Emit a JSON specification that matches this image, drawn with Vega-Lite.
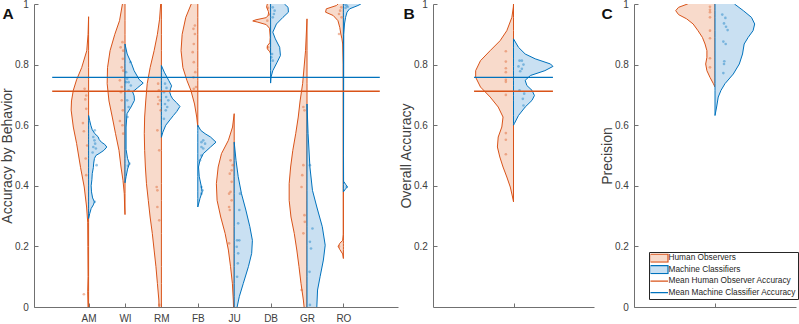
{
  "$schema": "https://vega.github.io/schema/vega-lite/v6.json",
  "autosize": {"type": "pad"},
  "padding": {"left": 0, "top": -1, "right": 0, "bottom": 0},
  "background": "white",
  "config": {
    "font": "Liberation Sans",
    "view": {"stroke": null},
    "axis": {
      "grid": false,
      "domainColor": "#707070",
      "tickColor": "#707070",
      "labelColor": "#404040",
      "titleColor": "#404040",
      "labelFontSize": 10,
      "titleFontSize": 14,
      "titleFontWeight": "normal",
      "tickSize": -4
    },
    "axisX": {"labelPadding": 10},
    "axisY": {"labelPadding": 9.7, "titlePadding": 0},
    "title": {"fontSize": 15.5, "fontWeight": "bold", "anchor": "start", "frame": "bounds", "color": "#111111", "offset": 0}
  },
  "datasets": {
    "means": [
      {"group": "Human Observers", "value": 0.712},
      {"group": "Machine Classifiers", "value": 0.758}
    ],
    "outline": [
      {"panel":"A","behavior":"AM","group":"Human Observers","value":-0.03,"spread":-0.01},
      {"panel":"A","behavior":"AM","group":"Human Observers","value":0.05,"spread":-0.025},
      {"panel":"A","behavior":"AM","group":"Human Observers","value":0.1,"spread":-0.015},
      {"panel":"A","behavior":"AM","group":"Human Observers","value":0.2,"spread":-0.02},
      {"panel":"A","behavior":"AM","group":"Human Observers","value":0.28,"spread":-0.025},
      {"panel":"A","behavior":"AM","group":"Human Observers","value":0.33,"spread":-0.055},
      {"panel":"A","behavior":"AM","group":"Human Observers","value":0.396,"spread":-0.12},
      {"panel":"A","behavior":"AM","group":"Human Observers","value":0.46,"spread":-0.22},
      {"panel":"A","behavior":"AM","group":"Human Observers","value":0.54,"spread":-0.33},
      {"panel":"A","behavior":"AM","group":"Human Observers","value":0.594,"spread":-0.42},
      {"panel":"A","behavior":"AM","group":"Human Observers","value":0.65,"spread":-0.48},
      {"panel":"A","behavior":"AM","group":"Human Observers","value":0.68,"spread":-0.47},
      {"panel":"A","behavior":"AM","group":"Human Observers","value":0.715,"spread":-0.42},
      {"panel":"A","behavior":"AM","group":"Human Observers","value":0.75,"spread":-0.33},
      {"panel":"A","behavior":"AM","group":"Human Observers","value":0.79,"spread":-0.19},
      {"panel":"A","behavior":"AM","group":"Human Observers","value":0.846,"spread":-0.05},
      {"panel":"A","behavior":"AM","group":"Human Observers","value":0.9,"spread":-0.015},
      {"panel":"A","behavior":"AM","group":"Human Observers","value":0.958,"spread":0},
      {"panel":"A","behavior":"AM","group":"Machine Classifiers","value":0.292,"spread":0},
      {"panel":"A","behavior":"AM","group":"Machine Classifiers","value":0.308,"spread":0.03},
      {"panel":"A","behavior":"AM","group":"Machine Classifiers","value":0.325,"spread":0.07},
      {"panel":"A","behavior":"AM","group":"Machine Classifiers","value":0.337,"spread":0.13},
      {"panel":"A","behavior":"AM","group":"Machine Classifiers","value":0.347,"spread":0.16},
      {"panel":"A","behavior":"AM","group":"Machine Classifiers","value":0.36,"spread":0.11},
      {"panel":"A","behavior":"AM","group":"Machine Classifiers","value":0.38,"spread":0.08},
      {"panel":"A","behavior":"AM","group":"Machine Classifiers","value":0.4,"spread":0.07},
      {"panel":"A","behavior":"AM","group":"Machine Classifiers","value":0.42,"spread":0.09},
      {"panel":"A","behavior":"AM","group":"Machine Classifiers","value":0.44,"spread":0.1},
      {"panel":"A","behavior":"AM","group":"Machine Classifiers","value":0.46,"spread":0.13},
      {"panel":"A","behavior":"AM","group":"Machine Classifiers","value":0.475,"spread":0.14},
      {"panel":"A","behavior":"AM","group":"Machine Classifiers","value":0.49,"spread":0.16},
      {"panel":"A","behavior":"AM","group":"Machine Classifiers","value":0.5,"spread":0.2},
      {"panel":"A","behavior":"AM","group":"Machine Classifiers","value":0.508,"spread":0.31},
      {"panel":"A","behavior":"AM","group":"Machine Classifiers","value":0.517,"spread":0.42},
      {"panel":"A","behavior":"AM","group":"Machine Classifiers","value":0.528,"spread":0.5},
      {"panel":"A","behavior":"AM","group":"Machine Classifiers","value":0.537,"spread":0.44},
      {"panel":"A","behavior":"AM","group":"Machine Classifiers","value":0.544,"spread":0.35},
      {"panel":"A","behavior":"AM","group":"Machine Classifiers","value":0.553,"spread":0.29},
      {"panel":"A","behavior":"AM","group":"Machine Classifiers","value":0.562,"spread":0.26},
      {"panel":"A","behavior":"AM","group":"Machine Classifiers","value":0.572,"spread":0.17},
      {"panel":"A","behavior":"AM","group":"Machine Classifiers","value":0.585,"spread":0.1},
      {"panel":"A","behavior":"AM","group":"Machine Classifiers","value":0.6,"spread":0.06},
      {"panel":"A","behavior":"AM","group":"Machine Classifiers","value":0.615,"spread":0.03},
      {"panel":"A","behavior":"AM","group":"Machine Classifiers","value":0.632,"spread":0},
      {"panel":"A","behavior":"WI","group":"Human Observers","value":0.305,"spread":0},
      {"panel":"A","behavior":"WI","group":"Human Observers","value":0.33,"spread":-0.01},
      {"panel":"A","behavior":"WI","group":"Human Observers","value":0.374,"spread":-0.02},
      {"panel":"A","behavior":"WI","group":"Human Observers","value":0.418,"spread":-0.055},
      {"panel":"A","behavior":"WI","group":"Human Observers","value":0.462,"spread":-0.11},
      {"panel":"A","behavior":"WI","group":"Human Observers","value":0.517,"spread":-0.165},
      {"panel":"A","behavior":"WI","group":"Human Observers","value":0.572,"spread":-0.26},
      {"panel":"A","behavior":"WI","group":"Human Observers","value":0.627,"spread":-0.35},
      {"panel":"A","behavior":"WI","group":"Human Observers","value":0.68,"spread":-0.44},
      {"panel":"A","behavior":"WI","group":"Human Observers","value":0.737,"spread":-0.49},
      {"panel":"A","behavior":"WI","group":"Human Observers","value":0.79,"spread":-0.48},
      {"panel":"A","behavior":"WI","group":"Human Observers","value":0.846,"spread":-0.41},
      {"panel":"A","behavior":"WI","group":"Human Observers","value":0.9,"spread":-0.28},
      {"panel":"A","behavior":"WI","group":"Human Observers","value":0.945,"spread":-0.15},
      {"panel":"A","behavior":"WI","group":"Human Observers","value":1.0,"spread":-0.07},
      {"panel":"A","behavior":"WI","group":"Human Observers","value":1.03,"spread":-0.03},
      {"panel":"A","behavior":"WI","group":"Machine Classifiers","value":0.41,"spread":0},
      {"panel":"A","behavior":"WI","group":"Machine Classifiers","value":0.43,"spread":0.03},
      {"panel":"A","behavior":"WI","group":"Machine Classifiers","value":0.455,"spread":0.07},
      {"panel":"A","behavior":"WI","group":"Machine Classifiers","value":0.473,"spread":0.12},
      {"panel":"A","behavior":"WI","group":"Machine Classifiers","value":0.49,"spread":0.07},
      {"panel":"A","behavior":"WI","group":"Machine Classifiers","value":0.52,"spread":0.03},
      {"panel":"A","behavior":"WI","group":"Machine Classifiers","value":0.594,"spread":0.03},
      {"panel":"A","behavior":"WI","group":"Machine Classifiers","value":0.638,"spread":0.055},
      {"panel":"A","behavior":"WI","group":"Machine Classifiers","value":0.66,"spread":0.165},
      {"panel":"A","behavior":"WI","group":"Machine Classifiers","value":0.682,"spread":0.26},
      {"panel":"A","behavior":"WI","group":"Machine Classifiers","value":0.697,"spread":0.25},
      {"panel":"A","behavior":"WI","group":"Machine Classifiers","value":0.71,"spread":0.21},
      {"panel":"A","behavior":"WI","group":"Machine Classifiers","value":0.724,"spread":0.35},
      {"panel":"A","behavior":"WI","group":"Machine Classifiers","value":0.739,"spread":0.5},
      {"panel":"A","behavior":"WI","group":"Machine Classifiers","value":0.752,"spread":0.38},
      {"panel":"A","behavior":"WI","group":"Machine Classifiers","value":0.759,"spread":0.35},
      {"panel":"A","behavior":"WI","group":"Machine Classifiers","value":0.78,"spread":0.25},
      {"panel":"A","behavior":"WI","group":"Machine Classifiers","value":0.803,"spread":0.18},
      {"panel":"A","behavior":"WI","group":"Machine Classifiers","value":0.835,"spread":0.06},
      {"panel":"A","behavior":"WI","group":"Machine Classifiers","value":0.868,"spread":0},
      {"panel":"A","behavior":"RM","group":"Human Observers","value":-0.03,"spread":-0.07},
      {"panel":"A","behavior":"RM","group":"Human Observers","value":0.0,"spread":-0.065},
      {"panel":"A","behavior":"RM","group":"Human Observers","value":0.023,"spread":-0.07},
      {"panel":"A","behavior":"RM","group":"Human Observers","value":0.078,"spread":-0.11},
      {"panel":"A","behavior":"RM","group":"Human Observers","value":0.133,"spread":-0.15},
      {"panel":"A","behavior":"RM","group":"Human Observers","value":0.188,"spread":-0.2},
      {"panel":"A","behavior":"RM","group":"Human Observers","value":0.243,"spread":-0.25},
      {"panel":"A","behavior":"RM","group":"Human Observers","value":0.297,"spread":-0.31},
      {"panel":"A","behavior":"RM","group":"Human Observers","value":0.352,"spread":-0.36},
      {"panel":"A","behavior":"RM","group":"Human Observers","value":0.407,"spread":-0.41},
      {"panel":"A","behavior":"RM","group":"Human Observers","value":0.462,"spread":-0.44},
      {"panel":"A","behavior":"RM","group":"Human Observers","value":0.517,"spread":-0.46},
      {"panel":"A","behavior":"RM","group":"Human Observers","value":0.572,"spread":-0.47},
      {"panel":"A","behavior":"RM","group":"Human Observers","value":0.627,"spread":-0.46},
      {"panel":"A","behavior":"RM","group":"Human Observers","value":0.68,"spread":-0.43},
      {"panel":"A","behavior":"RM","group":"Human Observers","value":0.737,"spread":-0.39},
      {"panel":"A","behavior":"RM","group":"Human Observers","value":0.79,"spread":-0.31},
      {"panel":"A","behavior":"RM","group":"Human Observers","value":0.846,"spread":-0.2},
      {"panel":"A","behavior":"RM","group":"Human Observers","value":0.9,"spread":-0.11},
      {"panel":"A","behavior":"RM","group":"Human Observers","value":0.95,"spread":-0.05},
      {"panel":"A","behavior":"RM","group":"Human Observers","value":1.0,"spread":-0.02},
      {"panel":"A","behavior":"RM","group":"Human Observers","value":1.03,"spread":-0.01},
      {"panel":"A","behavior":"RM","group":"Machine Classifiers","value":0.56,"spread":0},
      {"panel":"A","behavior":"RM","group":"Machine Classifiers","value":0.577,"spread":0.04},
      {"panel":"A","behavior":"RM","group":"Machine Classifiers","value":0.6,"spread":0.12},
      {"panel":"A","behavior":"RM","group":"Machine Classifiers","value":0.62,"spread":0.25},
      {"panel":"A","behavior":"RM","group":"Machine Classifiers","value":0.632,"spread":0.33},
      {"panel":"A","behavior":"RM","group":"Machine Classifiers","value":0.645,"spread":0.42},
      {"panel":"A","behavior":"RM","group":"Machine Classifiers","value":0.662,"spread":0.51},
      {"panel":"A","behavior":"RM","group":"Machine Classifiers","value":0.675,"spread":0.41},
      {"panel":"A","behavior":"RM","group":"Machine Classifiers","value":0.687,"spread":0.31},
      {"panel":"A","behavior":"RM","group":"Machine Classifiers","value":0.697,"spread":0.26},
      {"panel":"A","behavior":"RM","group":"Machine Classifiers","value":0.709,"spread":0.23},
      {"panel":"A","behavior":"RM","group":"Machine Classifiers","value":0.72,"spread":0.25},
      {"panel":"A","behavior":"RM","group":"Machine Classifiers","value":0.73,"spread":0.28},
      {"panel":"A","behavior":"RM","group":"Machine Classifiers","value":0.748,"spread":0.2},
      {"panel":"A","behavior":"RM","group":"Machine Classifiers","value":0.775,"spread":0.08},
      {"panel":"A","behavior":"RM","group":"Machine Classifiers","value":0.797,"spread":0},
      {"panel":"A","behavior":"FB","group":"Human Observers","value":0.594,"spread":0},
      {"panel":"A","behavior":"FB","group":"Human Observers","value":0.627,"spread":-0.03},
      {"panel":"A","behavior":"FB","group":"Human Observers","value":0.67,"spread":-0.09},
      {"panel":"A","behavior":"FB","group":"Human Observers","value":0.715,"spread":-0.19},
      {"panel":"A","behavior":"FB","group":"Human Observers","value":0.748,"spread":-0.3},
      {"panel":"A","behavior":"FB","group":"Human Observers","value":0.79,"spread":-0.41},
      {"panel":"A","behavior":"FB","group":"Human Observers","value":0.846,"spread":-0.46},
      {"panel":"A","behavior":"FB","group":"Human Observers","value":0.9,"spread":-0.43},
      {"panel":"A","behavior":"FB","group":"Human Observers","value":0.956,"spread":-0.33},
      {"panel":"A","behavior":"FB","group":"Human Observers","value":1.0,"spread":-0.18},
      {"panel":"A","behavior":"FB","group":"Human Observers","value":1.03,"spread":-0.1},
      {"panel":"A","behavior":"FB","group":"Machine Classifiers","value":0.33,"spread":0},
      {"panel":"A","behavior":"FB","group":"Machine Classifiers","value":0.358,"spread":0.06},
      {"panel":"A","behavior":"FB","group":"Machine Classifiers","value":0.38,"spread":0.12},
      {"panel":"A","behavior":"FB","group":"Machine Classifiers","value":0.396,"spread":0.1},
      {"panel":"A","behavior":"FB","group":"Machine Classifiers","value":0.43,"spread":0.04},
      {"panel":"A","behavior":"FB","group":"Machine Classifiers","value":0.462,"spread":0.02},
      {"panel":"A","behavior":"FB","group":"Machine Classifiers","value":0.484,"spread":0.06},
      {"panel":"A","behavior":"FB","group":"Machine Classifiers","value":0.506,"spread":0.15},
      {"panel":"A","behavior":"FB","group":"Machine Classifiers","value":0.528,"spread":0.35},
      {"panel":"A","behavior":"FB","group":"Machine Classifiers","value":0.544,"spread":0.5},
      {"panel":"A","behavior":"FB","group":"Machine Classifiers","value":0.561,"spread":0.35},
      {"panel":"A","behavior":"FB","group":"Machine Classifiers","value":0.572,"spread":0.2},
      {"panel":"A","behavior":"FB","group":"Machine Classifiers","value":0.583,"spread":0.08},
      {"panel":"A","behavior":"FB","group":"Machine Classifiers","value":0.6,"spread":0},
      {"panel":"A","behavior":"JU","group":"Human Observers","value":-0.03,"spread":-0.01},
      {"panel":"A","behavior":"JU","group":"Human Observers","value":0.023,"spread":-0.025},
      {"panel":"A","behavior":"JU","group":"Human Observers","value":0.078,"spread":-0.05},
      {"panel":"A","behavior":"JU","group":"Human Observers","value":0.133,"spread":-0.1},
      {"panel":"A","behavior":"JU","group":"Human Observers","value":0.188,"spread":-0.16},
      {"panel":"A","behavior":"JU","group":"Human Observers","value":0.243,"spread":-0.25},
      {"panel":"A","behavior":"JU","group":"Human Observers","value":0.297,"spread":-0.37},
      {"panel":"A","behavior":"JU","group":"Human Observers","value":0.352,"spread":-0.47},
      {"panel":"A","behavior":"JU","group":"Human Observers","value":0.407,"spread":-0.49},
      {"panel":"A","behavior":"JU","group":"Human Observers","value":0.462,"spread":-0.44},
      {"panel":"A","behavior":"JU","group":"Human Observers","value":0.506,"spread":-0.35},
      {"panel":"A","behavior":"JU","group":"Human Observers","value":0.55,"spread":-0.16},
      {"panel":"A","behavior":"JU","group":"Human Observers","value":0.594,"spread":-0.045},
      {"panel":"A","behavior":"JU","group":"Human Observers","value":0.638,"spread":0},
      {"panel":"A","behavior":"JU","group":"Machine Classifiers","value":-0.03,"spread":0.07},
      {"panel":"A","behavior":"JU","group":"Machine Classifiers","value":0.0,"spread":0.08},
      {"panel":"A","behavior":"JU","group":"Machine Classifiers","value":0.034,"spread":0.14},
      {"panel":"A","behavior":"JU","group":"Machine Classifiers","value":0.078,"spread":0.25},
      {"panel":"A","behavior":"JU","group":"Machine Classifiers","value":0.133,"spread":0.39},
      {"panel":"A","behavior":"JU","group":"Machine Classifiers","value":0.177,"spread":0.48},
      {"panel":"A","behavior":"JU","group":"Machine Classifiers","value":0.22,"spread":0.5},
      {"panel":"A","behavior":"JU","group":"Machine Classifiers","value":0.265,"spread":0.43},
      {"panel":"A","behavior":"JU","group":"Machine Classifiers","value":0.32,"spread":0.32},
      {"panel":"A","behavior":"JU","group":"Machine Classifiers","value":0.374,"spread":0.2},
      {"panel":"A","behavior":"JU","group":"Machine Classifiers","value":0.43,"spread":0.11},
      {"panel":"A","behavior":"JU","group":"Machine Classifiers","value":0.484,"spread":0.05},
      {"panel":"A","behavior":"JU","group":"Machine Classifiers","value":0.544,"spread":0},
      {"panel":"A","behavior":"DB","group":"Human Observers","value":0.835,"spread":0},
      {"panel":"A","behavior":"DB","group":"Human Observers","value":0.842,"spread":-0.02},
      {"panel":"A","behavior":"DB","group":"Human Observers","value":0.852,"spread":-0.09},
      {"panel":"A","behavior":"DB","group":"Human Observers","value":0.862,"spread":-0.09},
      {"panel":"A","behavior":"DB","group":"Human Observers","value":0.872,"spread":-0.02},
      {"panel":"A","behavior":"DB","group":"Human Observers","value":0.89,"spread":-0.01},
      {"panel":"A","behavior":"DB","group":"Human Observers","value":0.92,"spread":-0.03},
      {"panel":"A","behavior":"DB","group":"Human Observers","value":0.932,"spread":-0.12},
      {"panel":"A","behavior":"DB","group":"Human Observers","value":0.94,"spread":-0.35},
      {"panel":"A","behavior":"DB","group":"Human Observers","value":0.944,"spread":-0.49},
      {"panel":"A","behavior":"DB","group":"Human Observers","value":0.948,"spread":-0.4},
      {"panel":"A","behavior":"DB","group":"Human Observers","value":0.955,"spread":-0.12},
      {"panel":"A","behavior":"DB","group":"Human Observers","value":0.965,"spread":-0.05},
      {"panel":"A","behavior":"DB","group":"Human Observers","value":0.975,"spread":-0.06},
      {"panel":"A","behavior":"DB","group":"Human Observers","value":0.99,"spread":-0.11},
      {"panel":"A","behavior":"DB","group":"Human Observers","value":1.0,"spread":-0.09},
      {"panel":"A","behavior":"DB","group":"Human Observers","value":1.03,"spread":-0.05},
      {"panel":"A","behavior":"DB","group":"Machine Classifiers","value":0.739,"spread":0},
      {"panel":"A","behavior":"DB","group":"Machine Classifiers","value":0.758,"spread":0.01},
      {"panel":"A","behavior":"DB","group":"Machine Classifiers","value":0.78,"spread":0.06},
      {"panel":"A","behavior":"DB","group":"Machine Classifiers","value":0.808,"spread":0.18},
      {"panel":"A","behavior":"DB","group":"Machine Classifiers","value":0.83,"spread":0.27},
      {"panel":"A","behavior":"DB","group":"Machine Classifiers","value":0.857,"spread":0.25},
      {"panel":"A","behavior":"DB","group":"Machine Classifiers","value":0.885,"spread":0.13},
      {"panel":"A","behavior":"DB","group":"Machine Classifiers","value":0.907,"spread":0.06},
      {"panel":"A","behavior":"DB","group":"Machine Classifiers","value":0.934,"spread":0.16},
      {"panel":"A","behavior":"DB","group":"Machine Classifiers","value":0.956,"spread":0.34},
      {"panel":"A","behavior":"DB","group":"Machine Classifiers","value":0.973,"spread":0.49},
      {"panel":"A","behavior":"DB","group":"Machine Classifiers","value":0.989,"spread":0.48},
      {"panel":"A","behavior":"DB","group":"Machine Classifiers","value":1.0,"spread":0.38},
      {"panel":"A","behavior":"DB","group":"Machine Classifiers","value":1.03,"spread":0.2},
      {"panel":"A","behavior":"GR","group":"Human Observers","value":-0.03,"spread":-0.07},
      {"panel":"A","behavior":"GR","group":"Human Observers","value":0.0,"spread":-0.08},
      {"panel":"A","behavior":"GR","group":"Human Observers","value":0.023,"spread":-0.1},
      {"panel":"A","behavior":"GR","group":"Human Observers","value":0.078,"spread":-0.165},
      {"panel":"A","behavior":"GR","group":"Human Observers","value":0.133,"spread":-0.22},
      {"panel":"A","behavior":"GR","group":"Human Observers","value":0.188,"spread":-0.28},
      {"panel":"A","behavior":"GR","group":"Human Observers","value":0.243,"spread":-0.35},
      {"panel":"A","behavior":"GR","group":"Human Observers","value":0.297,"spread":-0.44},
      {"panel":"A","behavior":"GR","group":"Human Observers","value":0.352,"spread":-0.49},
      {"panel":"A","behavior":"GR","group":"Human Observers","value":0.407,"spread":-0.49},
      {"panel":"A","behavior":"GR","group":"Human Observers","value":0.462,"spread":-0.45},
      {"panel":"A","behavior":"GR","group":"Human Observers","value":0.517,"spread":-0.39},
      {"panel":"A","behavior":"GR","group":"Human Observers","value":0.572,"spread":-0.31},
      {"panel":"A","behavior":"GR","group":"Human Observers","value":0.627,"spread":-0.24},
      {"panel":"A","behavior":"GR","group":"Human Observers","value":0.68,"spread":-0.19},
      {"panel":"A","behavior":"GR","group":"Human Observers","value":0.737,"spread":-0.12},
      {"panel":"A","behavior":"GR","group":"Human Observers","value":0.846,"spread":-0.04},
      {"panel":"A","behavior":"GR","group":"Human Observers","value":0.951,"spread":0},
      {"panel":"A","behavior":"GR","group":"Machine Classifiers","value":-0.03,"spread":0.27},
      {"panel":"A","behavior":"GR","group":"Machine Classifiers","value":0.0,"spread":0.27},
      {"panel":"A","behavior":"GR","group":"Machine Classifiers","value":0.056,"spread":0.29},
      {"panel":"A","behavior":"GR","group":"Machine Classifiers","value":0.1,"spread":0.36},
      {"panel":"A","behavior":"GR","group":"Machine Classifiers","value":0.155,"spread":0.45},
      {"panel":"A","behavior":"GR","group":"Machine Classifiers","value":0.204,"spread":0.5},
      {"panel":"A","behavior":"GR","group":"Machine Classifiers","value":0.265,"spread":0.42},
      {"panel":"A","behavior":"GR","group":"Machine Classifiers","value":0.33,"spread":0.27},
      {"panel":"A","behavior":"GR","group":"Machine Classifiers","value":0.385,"spread":0.15},
      {"panel":"A","behavior":"GR","group":"Machine Classifiers","value":0.462,"spread":0.08},
      {"panel":"A","behavior":"GR","group":"Machine Classifiers","value":0.572,"spread":0.03},
      {"panel":"A","behavior":"GR","group":"Machine Classifiers","value":0.67,"spread":0},
      {"panel":"A","behavior":"RO","group":"Human Observers","value":0.16,"spread":0},
      {"panel":"A","behavior":"RO","group":"Human Observers","value":0.175,"spread":-0.02},
      {"panel":"A","behavior":"RO","group":"Human Observers","value":0.19,"spread":-0.1},
      {"panel":"A","behavior":"RO","group":"Human Observers","value":0.2,"spread":-0.14},
      {"panel":"A","behavior":"RO","group":"Human Observers","value":0.21,"spread":-0.1},
      {"panel":"A","behavior":"RO","group":"Human Observers","value":0.22,"spread":-0.02},
      {"panel":"A","behavior":"RO","group":"Human Observers","value":0.24,"spread":-0.003},
      {"panel":"A","behavior":"RO","group":"Human Observers","value":0.8,"spread":-0.005},
      {"panel":"A","behavior":"RO","group":"Human Observers","value":0.868,"spread":-0.02},
      {"panel":"A","behavior":"RO","group":"Human Observers","value":0.885,"spread":-0.04},
      {"panel":"A","behavior":"RO","group":"Human Observers","value":0.901,"spread":-0.07},
      {"panel":"A","behavior":"RO","group":"Human Observers","value":0.923,"spread":-0.1},
      {"panel":"A","behavior":"RO","group":"Human Observers","value":0.945,"spread":-0.15},
      {"panel":"A","behavior":"RO","group":"Human Observers","value":0.962,"spread":-0.28},
      {"panel":"A","behavior":"RO","group":"Human Observers","value":0.973,"spread":-0.49},
      {"panel":"A","behavior":"RO","group":"Human Observers","value":0.984,"spread":-0.47},
      {"panel":"A","behavior":"RO","group":"Human Observers","value":0.995,"spread":-0.19},
      {"panel":"A","behavior":"RO","group":"Human Observers","value":1.0,"spread":-0.15},
      {"panel":"A","behavior":"RO","group":"Human Observers","value":1.03,"spread":-0.05},
      {"panel":"A","behavior":"RO","group":"Machine Classifiers","value":0.38,"spread":0},
      {"panel":"A","behavior":"RO","group":"Machine Classifiers","value":0.39,"spread":0.06},
      {"panel":"A","behavior":"RO","group":"Machine Classifiers","value":0.396,"spread":0.11},
      {"panel":"A","behavior":"RO","group":"Machine Classifiers","value":0.405,"spread":0.06},
      {"panel":"A","behavior":"RO","group":"Machine Classifiers","value":0.415,"spread":0.005},
      {"panel":"A","behavior":"RO","group":"Machine Classifiers","value":0.5,"spread":0.003},
      {"panel":"A","behavior":"RO","group":"Machine Classifiers","value":0.9,"spread":0.01},
      {"panel":"A","behavior":"RO","group":"Machine Classifiers","value":0.934,"spread":0.03},
      {"panel":"A","behavior":"RO","group":"Machine Classifiers","value":0.956,"spread":0.06},
      {"panel":"A","behavior":"RO","group":"Machine Classifiers","value":0.973,"spread":0.1},
      {"panel":"A","behavior":"RO","group":"Machine Classifiers","value":0.984,"spread":0.17},
      {"panel":"A","behavior":"RO","group":"Machine Classifiers","value":0.995,"spread":0.4},
      {"panel":"A","behavior":"RO","group":"Machine Classifiers","value":1.0,"spread":0.48},
      {"panel":"A","behavior":"RO","group":"Machine Classifiers","value":1.03,"spread":0.5},
      {"panel":"B","behavior":"All","group":"Human Observers","value":0.347,"spread":0},
      {"panel":"B","behavior":"All","group":"Human Observers","value":0.363,"spread":-0.012},
      {"panel":"B","behavior":"All","group":"Human Observers","value":0.396,"spread":-0.04},
      {"panel":"B","behavior":"All","group":"Human Observers","value":0.429,"spread":-0.083},
      {"panel":"B","behavior":"All","group":"Human Observers","value":0.462,"spread":-0.13},
      {"panel":"B","behavior":"All","group":"Human Observers","value":0.495,"spread":-0.17},
      {"panel":"B","behavior":"All","group":"Human Observers","value":0.528,"spread":-0.2},
      {"panel":"B","behavior":"All","group":"Human Observers","value":0.561,"spread":-0.19},
      {"panel":"B","behavior":"All","group":"Human Observers","value":0.594,"spread":-0.145},
      {"panel":"B","behavior":"All","group":"Human Observers","value":0.627,"spread":-0.13},
      {"panel":"B","behavior":"All","group":"Human Observers","value":0.66,"spread":-0.19},
      {"panel":"B","behavior":"All","group":"Human Observers","value":0.693,"spread":-0.29},
      {"panel":"B","behavior":"All","group":"Human Observers","value":0.726,"spread":-0.41},
      {"panel":"B","behavior":"All","group":"Human Observers","value":0.758,"spread":-0.47},
      {"panel":"B","behavior":"All","group":"Human Observers","value":0.78,"spread":-0.47},
      {"panel":"B","behavior":"All","group":"Human Observers","value":0.813,"spread":-0.41},
      {"panel":"B","behavior":"All","group":"Human Observers","value":0.846,"spread":-0.29},
      {"panel":"B","behavior":"All","group":"Human Observers","value":0.879,"spread":-0.166},
      {"panel":"B","behavior":"All","group":"Human Observers","value":0.912,"spread":-0.083},
      {"panel":"B","behavior":"All","group":"Human Observers","value":0.956,"spread":-0.02},
      {"panel":"B","behavior":"All","group":"Human Observers","value":0.99,"spread":-0.002},
      {"panel":"B","behavior":"All","group":"Human Observers","value":1.0,"spread":0},
      {"panel":"B","behavior":"All","group":"Machine Classifiers","value":0.6,"spread":0},
      {"panel":"B","behavior":"All","group":"Machine Classifiers","value":0.605,"spread":0.01},
      {"panel":"B","behavior":"All","group":"Machine Classifiers","value":0.632,"spread":0.062},
      {"panel":"B","behavior":"All","group":"Machine Classifiers","value":0.66,"spread":0.145},
      {"panel":"B","behavior":"All","group":"Machine Classifiers","value":0.682,"spread":0.23},
      {"panel":"B","behavior":"All","group":"Machine Classifiers","value":0.698,"spread":0.26},
      {"panel":"B","behavior":"All","group":"Machine Classifiers","value":0.715,"spread":0.23},
      {"panel":"B","behavior":"All","group":"Machine Classifiers","value":0.731,"spread":0.166},
      {"panel":"B","behavior":"All","group":"Machine Classifiers","value":0.748,"spread":0.145},
      {"panel":"B","behavior":"All","group":"Machine Classifiers","value":0.764,"spread":0.21},
      {"panel":"B","behavior":"All","group":"Machine Classifiers","value":0.78,"spread":0.39},
      {"panel":"B","behavior":"All","group":"Machine Classifiers","value":0.794,"spread":0.49},
      {"panel":"B","behavior":"All","group":"Machine Classifiers","value":0.802,"spread":0.46},
      {"panel":"B","behavior":"All","group":"Machine Classifiers","value":0.819,"spread":0.27},
      {"panel":"B","behavior":"All","group":"Machine Classifiers","value":0.835,"spread":0.145},
      {"panel":"B","behavior":"All","group":"Machine Classifiers","value":0.857,"spread":0.062},
      {"panel":"B","behavior":"All","group":"Machine Classifiers","value":0.885,"spread":0},
      {"panel":"C","behavior":"All","group":"Human Observers","value":0.726,"spread":0},
      {"panel":"C","behavior":"All","group":"Human Observers","value":0.737,"spread":-0.02},
      {"panel":"C","behavior":"All","group":"Human Observers","value":0.758,"spread":-0.062},
      {"panel":"C","behavior":"All","group":"Human Observers","value":0.78,"spread":-0.1},
      {"panel":"C","behavior":"All","group":"Human Observers","value":0.802,"spread":-0.115},
      {"panel":"C","behavior":"All","group":"Human Observers","value":0.824,"spread":-0.1},
      {"panel":"C","behavior":"All","group":"Human Observers","value":0.846,"spread":-0.1},
      {"panel":"C","behavior":"All","group":"Human Observers","value":0.868,"spread":-0.123},
      {"panel":"C","behavior":"All","group":"Human Observers","value":0.89,"spread":-0.156},
      {"panel":"C","behavior":"All","group":"Human Observers","value":0.912,"spread":-0.21},
      {"panel":"C","behavior":"All","group":"Human Observers","value":0.934,"spread":-0.27},
      {"panel":"C","behavior":"All","group":"Human Observers","value":0.951,"spread":-0.35},
      {"panel":"C","behavior":"All","group":"Human Observers","value":0.965,"spread":-0.45},
      {"panel":"C","behavior":"All","group":"Human Observers","value":0.978,"spread":-0.485},
      {"panel":"C","behavior":"All","group":"Human Observers","value":0.989,"spread":-0.45},
      {"panel":"C","behavior":"All","group":"Human Observers","value":1.0,"spread":-0.34},
      {"panel":"C","behavior":"All","group":"Human Observers","value":1.03,"spread":-0.2},
      {"panel":"C","behavior":"All","group":"Machine Classifiers","value":0.632,"spread":0},
      {"panel":"C","behavior":"All","group":"Machine Classifiers","value":0.66,"spread":0.02},
      {"panel":"C","behavior":"All","group":"Machine Classifiers","value":0.693,"spread":0.04},
      {"panel":"C","behavior":"All","group":"Machine Classifiers","value":0.715,"spread":0.074},
      {"panel":"C","behavior":"All","group":"Machine Classifiers","value":0.737,"spread":0.123},
      {"panel":"C","behavior":"All","group":"Machine Classifiers","value":0.769,"spread":0.226},
      {"panel":"C","behavior":"All","group":"Machine Classifiers","value":0.802,"spread":0.3},
      {"panel":"C","behavior":"All","group":"Machine Classifiers","value":0.835,"spread":0.34},
      {"panel":"C","behavior":"All","group":"Machine Classifiers","value":0.868,"spread":0.36},
      {"panel":"C","behavior":"All","group":"Machine Classifiers","value":0.89,"spread":0.41},
      {"panel":"C","behavior":"All","group":"Machine Classifiers","value":0.912,"spread":0.47},
      {"panel":"C","behavior":"All","group":"Machine Classifiers","value":0.934,"spread":0.49},
      {"panel":"C","behavior":"All","group":"Machine Classifiers","value":0.956,"spread":0.45},
      {"panel":"C","behavior":"All","group":"Machine Classifiers","value":0.978,"spread":0.35},
      {"panel":"C","behavior":"All","group":"Machine Classifiers","value":1.0,"spread":0.24},
      {"panel":"C","behavior":"All","group":"Machine Classifiers","value":1.03,"spread":0.15}
    ],
    "dots": [
      {"panel":"A","behavior":"AM","group":"Human Observers","value":0.72,"offset":-0.11},
      {"panel":"A","behavior":"AM","group":"Human Observers","value":0.698,"offset":-0.065},
      {"panel":"A","behavior":"AM","group":"Human Observers","value":0.685,"offset":-0.09},
      {"panel":"A","behavior":"AM","group":"Human Observers","value":0.654,"offset":-0.065},
      {"panel":"A","behavior":"AM","group":"Human Observers","value":0.607,"offset":-0.155},
      {"panel":"A","behavior":"AM","group":"Human Observers","value":0.58,"offset":-0.13},
      {"panel":"A","behavior":"AM","group":"Human Observers","value":0.533,"offset":-0.04},
      {"panel":"A","behavior":"AM","group":"Human Observers","value":0.49,"offset":-0.08},
      {"panel":"A","behavior":"AM","group":"Human Observers","value":0.435,"offset":-0.065},
      {"panel":"A","behavior":"AM","group":"Human Observers","value":0.042,"offset":-0.13},
      {"panel":"A","behavior":"AM","group":"Machine Classifiers","value":0.583,"offset":0.17},
      {"panel":"A","behavior":"AM","group":"Machine Classifiers","value":0.561,"offset":0.13},
      {"panel":"A","behavior":"AM","group":"Machine Classifiers","value":0.55,"offset":0.16},
      {"panel":"A","behavior":"AM","group":"Machine Classifiers","value":0.539,"offset":0.18},
      {"panel":"A","behavior":"AM","group":"Machine Classifiers","value":0.528,"offset":0.13},
      {"panel":"A","behavior":"AM","group":"Machine Classifiers","value":0.523,"offset":0.2},
      {"panel":"A","behavior":"AM","group":"Machine Classifiers","value":0.51,"offset":0.11},
      {"panel":"A","behavior":"AM","group":"Machine Classifiers","value":0.468,"offset":0.22},
      {"panel":"A","behavior":"AM","group":"Machine Classifiers","value":0.347,"offset":0.17},
      {"panel":"A","behavior":"WI","group":"Human Observers","value":0.874,"offset":-0.07},
      {"panel":"A","behavior":"WI","group":"Human Observers","value":0.857,"offset":-0.12},
      {"panel":"A","behavior":"WI","group":"Human Observers","value":0.846,"offset":-0.05},
      {"panel":"A","behavior":"WI","group":"Human Observers","value":0.819,"offset":-0.06},
      {"panel":"A","behavior":"WI","group":"Human Observers","value":0.791,"offset":-0.09},
      {"panel":"A","behavior":"WI","group":"Human Observers","value":0.78,"offset":-0.05},
      {"panel":"A","behavior":"WI","group":"Human Observers","value":0.748,"offset":-0.14},
      {"panel":"A","behavior":"WI","group":"Human Observers","value":0.726,"offset":-0.09},
      {"panel":"A","behavior":"WI","group":"Human Observers","value":0.709,"offset":-0.11},
      {"panel":"A","behavior":"WI","group":"Human Observers","value":0.682,"offset":-0.09},
      {"panel":"A","behavior":"WI","group":"Human Observers","value":0.649,"offset":-0.06},
      {"panel":"A","behavior":"WI","group":"Human Observers","value":0.614,"offset":-0.14},
      {"panel":"A","behavior":"WI","group":"Human Observers","value":0.6,"offset":-0.07},
      {"panel":"A","behavior":"WI","group":"Human Observers","value":0.572,"offset":-0.05},
      {"panel":"A","behavior":"WI","group":"Machine Classifiers","value":0.808,"offset":0.15},
      {"panel":"A","behavior":"WI","group":"Machine Classifiers","value":0.775,"offset":0.03},
      {"panel":"A","behavior":"WI","group":"Machine Classifiers","value":0.753,"offset":0.06},
      {"panel":"A","behavior":"WI","group":"Machine Classifiers","value":0.742,"offset":0.03},
      {"panel":"A","behavior":"WI","group":"Machine Classifiers","value":0.742,"offset":0.1},
      {"panel":"A","behavior":"WI","group":"Machine Classifiers","value":0.731,"offset":0.16},
      {"panel":"A","behavior":"WI","group":"Machine Classifiers","value":0.715,"offset":0.1},
      {"panel":"A","behavior":"WI","group":"Machine Classifiers","value":0.682,"offset":0.06},
      {"panel":"A","behavior":"WI","group":"Machine Classifiers","value":0.66,"offset":0.1},
      {"panel":"A","behavior":"WI","group":"Machine Classifiers","value":0.627,"offset":0.07},
      {"panel":"A","behavior":"WI","group":"Machine Classifiers","value":0.473,"offset":0.12},
      {"panel":"A","behavior":"WI","group":"Machine Classifiers","value":0.466,"offset":0.08},
      {"panel":"A","behavior":"RM","group":"Human Observers","value":0.737,"offset":-0.09},
      {"panel":"A","behavior":"RM","group":"Human Observers","value":0.715,"offset":-0.07},
      {"panel":"A","behavior":"RM","group":"Human Observers","value":0.693,"offset":-0.09},
      {"panel":"A","behavior":"RM","group":"Human Observers","value":0.682,"offset":-0.04},
      {"panel":"A","behavior":"RM","group":"Human Observers","value":0.67,"offset":-0.09},
      {"panel":"A","behavior":"RM","group":"Human Observers","value":0.649,"offset":-0.02},
      {"panel":"A","behavior":"RM","group":"Human Observers","value":0.583,"offset":-0.11},
      {"panel":"A","behavior":"RM","group":"Human Observers","value":0.517,"offset":-0.06},
      {"panel":"A","behavior":"RM","group":"Human Observers","value":0.396,"offset":-0.13},
      {"panel":"A","behavior":"RM","group":"Human Observers","value":0.385,"offset":-0.11},
      {"panel":"A","behavior":"RM","group":"Human Observers","value":0.33,"offset":-0.11},
      {"panel":"A","behavior":"RM","group":"Human Observers","value":0.286,"offset":-0.06},
      {"panel":"A","behavior":"RM","group":"Human Observers","value":0.007,"offset":-0.06},
      {"panel":"A","behavior":"RM","group":"Machine Classifiers","value":0.737,"offset":0.1},
      {"panel":"A","behavior":"RM","group":"Machine Classifiers","value":0.723,"offset":0.14},
      {"panel":"A","behavior":"RM","group":"Machine Classifiers","value":0.709,"offset":0.07},
      {"panel":"A","behavior":"RM","group":"Machine Classifiers","value":0.693,"offset":0.13},
      {"panel":"A","behavior":"RM","group":"Machine Classifiers","value":0.682,"offset":0.19},
      {"panel":"A","behavior":"RM","group":"Machine Classifiers","value":0.67,"offset":0.1},
      {"panel":"A","behavior":"RM","group":"Machine Classifiers","value":0.66,"offset":0.16},
      {"panel":"A","behavior":"RM","group":"Machine Classifiers","value":0.649,"offset":0.12},
      {"panel":"A","behavior":"RM","group":"Machine Classifiers","value":0.621,"offset":0.07},
      {"panel":"A","behavior":"FB","group":"Human Observers","value":0.929,"offset":-0.08},
      {"panel":"A","behavior":"FB","group":"Human Observers","value":0.918,"offset":-0.12},
      {"panel":"A","behavior":"FB","group":"Human Observers","value":0.901,"offset":-0.08},
      {"panel":"A","behavior":"FB","group":"Human Observers","value":0.868,"offset":-0.11},
      {"panel":"A","behavior":"FB","group":"Human Observers","value":0.841,"offset":-0.14},
      {"panel":"A","behavior":"FB","group":"Human Observers","value":0.808,"offset":-0.11},
      {"panel":"A","behavior":"FB","group":"Human Observers","value":0.775,"offset":-0.07},
      {"panel":"A","behavior":"FB","group":"Human Observers","value":0.758,"offset":-0.12},
      {"panel":"A","behavior":"FB","group":"Human Observers","value":0.726,"offset":-0.05},
      {"panel":"A","behavior":"FB","group":"Human Observers","value":0.72,"offset":-0.11},
      {"panel":"A","behavior":"FB","group":"Machine Classifiers","value":0.55,"offset":0.15},
      {"panel":"A","behavior":"FB","group":"Machine Classifiers","value":0.544,"offset":0.1},
      {"panel":"A","behavior":"FB","group":"Machine Classifiers","value":0.539,"offset":0.2},
      {"panel":"A","behavior":"FB","group":"Machine Classifiers","value":0.528,"offset":0.1},
      {"panel":"A","behavior":"FB","group":"Machine Classifiers","value":0.523,"offset":0.15},
      {"panel":"A","behavior":"FB","group":"Machine Classifiers","value":0.5,"offset":0.1},
      {"panel":"A","behavior":"FB","group":"Machine Classifiers","value":0.484,"offset":0.06},
      {"panel":"A","behavior":"FB","group":"Machine Classifiers","value":0.396,"offset":0.1},
      {"panel":"A","behavior":"FB","group":"Machine Classifiers","value":0.385,"offset":0.13},
      {"panel":"A","behavior":"FB","group":"Machine Classifiers","value":0.374,"offset":0.1},
      {"panel":"A","behavior":"JU","group":"Human Observers","value":0.484,"offset":-0.1},
      {"panel":"A","behavior":"JU","group":"Human Observers","value":0.468,"offset":-0.04},
      {"panel":"A","behavior":"JU","group":"Human Observers","value":0.451,"offset":-0.07},
      {"panel":"A","behavior":"JU","group":"Human Observers","value":0.44,"offset":-0.12},
      {"panel":"A","behavior":"JU","group":"Human Observers","value":0.413,"offset":-0.07},
      {"panel":"A","behavior":"JU","group":"Human Observers","value":0.38,"offset":-0.1},
      {"panel":"A","behavior":"JU","group":"Human Observers","value":0.374,"offset":-0.14},
      {"panel":"A","behavior":"JU","group":"Human Observers","value":0.352,"offset":-0.07},
      {"panel":"A","behavior":"JU","group":"Human Observers","value":0.33,"offset":-0.14},
      {"panel":"A","behavior":"JU","group":"Human Observers","value":0.32,"offset":-0.12},
      {"panel":"A","behavior":"JU","group":"Human Observers","value":0.21,"offset":-0.14},
      {"panel":"A","behavior":"JU","group":"Machine Classifiers","value":0.374,"offset":0.16},
      {"panel":"A","behavior":"JU","group":"Machine Classifiers","value":0.32,"offset":0.14},
      {"panel":"A","behavior":"JU","group":"Machine Classifiers","value":0.276,"offset":0.11},
      {"panel":"A","behavior":"JU","group":"Machine Classifiers","value":0.22,"offset":0.08},
      {"panel":"A","behavior":"JU","group":"Machine Classifiers","value":0.22,"offset":0.14},
      {"panel":"A","behavior":"JU","group":"Machine Classifiers","value":0.199,"offset":0.07},
      {"panel":"A","behavior":"JU","group":"Machine Classifiers","value":0.177,"offset":0.11},
      {"panel":"A","behavior":"JU","group":"Machine Classifiers","value":0.144,"offset":0.1},
      {"panel":"A","behavior":"JU","group":"Machine Classifiers","value":0.1,"offset":0.08},
      {"panel":"A","behavior":"DB","group":"Human Observers","value":0.987,"offset":-0.07},
      {"panel":"A","behavior":"DB","group":"Human Observers","value":0.965,"offset":-0.05},
      {"panel":"A","behavior":"DB","group":"Human Observers","value":0.945,"offset":-0.09},
      {"panel":"A","behavior":"DB","group":"Human Observers","value":0.857,"offset":-0.07},
      {"panel":"A","behavior":"DB","group":"Machine Classifiers","value":0.989,"offset":0.06},
      {"panel":"A","behavior":"DB","group":"Machine Classifiers","value":0.978,"offset":0.11},
      {"panel":"A","behavior":"DB","group":"Machine Classifiers","value":0.967,"offset":0.09},
      {"panel":"A","behavior":"DB","group":"Machine Classifiers","value":0.956,"offset":0.06},
      {"panel":"A","behavior":"DB","group":"Machine Classifiers","value":0.835,"offset":0.04},
      {"panel":"A","behavior":"DB","group":"Machine Classifiers","value":0.824,"offset":0.02},
      {"panel":"A","behavior":"DB","group":"Machine Classifiers","value":0.813,"offset":0.06},
      {"panel":"A","behavior":"GR","group":"Human Observers","value":0.66,"offset":-0.1},
      {"panel":"A","behavior":"GR","group":"Human Observers","value":0.649,"offset":-0.07},
      {"panel":"A","behavior":"GR","group":"Human Observers","value":0.468,"offset":-0.1},
      {"panel":"A","behavior":"GR","group":"Human Observers","value":0.435,"offset":-0.13},
      {"panel":"A","behavior":"GR","group":"Human Observers","value":0.396,"offset":-0.15},
      {"panel":"A","behavior":"GR","group":"Human Observers","value":0.303,"offset":-0.07},
      {"panel":"A","behavior":"GR","group":"Human Observers","value":0.281,"offset":-0.06},
      {"panel":"A","behavior":"GR","group":"Human Observers","value":0.243,"offset":-0.1},
      {"panel":"A","behavior":"GR","group":"Human Observers","value":0.056,"offset":-0.15},
      {"panel":"A","behavior":"GR","group":"Machine Classifiers","value":0.468,"offset":0.08},
      {"panel":"A","behavior":"GR","group":"Machine Classifiers","value":0.259,"offset":0.15},
      {"panel":"A","behavior":"GR","group":"Machine Classifiers","value":0.215,"offset":0.08},
      {"panel":"A","behavior":"GR","group":"Machine Classifiers","value":0.193,"offset":0.11},
      {"panel":"A","behavior":"GR","group":"Machine Classifiers","value":0.116,"offset":0.07},
      {"panel":"A","behavior":"GR","group":"Machine Classifiers","value":0.007,"offset":0.08},
      {"panel":"A","behavior":"RO","group":"Human Observers","value":0.989,"offset":-0.06},
      {"panel":"A","behavior":"RO","group":"Human Observers","value":0.978,"offset":-0.09},
      {"panel":"A","behavior":"RO","group":"Human Observers","value":0.967,"offset":-0.12},
      {"panel":"A","behavior":"RO","group":"Human Observers","value":0.956,"offset":-0.05},
      {"panel":"A","behavior":"RO","group":"Human Observers","value":0.901,"offset":-0.12},
      {"panel":"A","behavior":"RO","group":"Human Observers","value":0.2,"offset":-0.12},
      {"panel":"A","behavior":"RO","group":"Machine Classifiers","value":0.998,"offset":0.05},
      {"panel":"A","behavior":"RO","group":"Machine Classifiers","value":0.995,"offset":0.09},
      {"panel":"A","behavior":"RO","group":"Machine Classifiers","value":0.991,"offset":0.12},
      {"panel":"A","behavior":"RO","group":"Machine Classifiers","value":0.987,"offset":0.06},
      {"panel":"A","behavior":"RO","group":"Machine Classifiers","value":0.396,"offset":0.09},
      {"panel":"B","behavior":"All","group":"Human Observers","value":0.844,"offset":-0.095},
      {"panel":"B","behavior":"All","group":"Human Observers","value":0.81,"offset":-0.095},
      {"panel":"B","behavior":"All","group":"Human Observers","value":0.788,"offset":-0.095},
      {"panel":"B","behavior":"All","group":"Human Observers","value":0.775,"offset":-0.095},
      {"panel":"B","behavior":"All","group":"Human Observers","value":0.75,"offset":-0.095},
      {"panel":"B","behavior":"All","group":"Human Observers","value":0.743,"offset":-0.095},
      {"panel":"B","behavior":"All","group":"Human Observers","value":0.7,"offset":-0.095},
      {"panel":"B","behavior":"All","group":"Human Observers","value":0.574,"offset":-0.095},
      {"panel":"B","behavior":"All","group":"Human Observers","value":0.552,"offset":-0.095},
      {"panel":"B","behavior":"All","group":"Human Observers","value":0.504,"offset":-0.095},
      {"panel":"B","behavior":"All","group":"Machine Classifiers","value":0.813,"offset":0.075},
      {"panel":"B","behavior":"All","group":"Machine Classifiers","value":0.813,"offset":0.104},
      {"panel":"B","behavior":"All","group":"Machine Classifiers","value":0.794,"offset":0.062},
      {"panel":"B","behavior":"All","group":"Machine Classifiers","value":0.8,"offset":0.124},
      {"panel":"B","behavior":"All","group":"Machine Classifiers","value":0.786,"offset":0.104},
      {"panel":"B","behavior":"All","group":"Machine Classifiers","value":0.778,"offset":0.083},
      {"panel":"B","behavior":"All","group":"Machine Classifiers","value":0.715,"offset":0.075},
      {"panel":"B","behavior":"All","group":"Machine Classifiers","value":0.704,"offset":0.133},
      {"panel":"B","behavior":"All","group":"Machine Classifiers","value":0.687,"offset":0.116},
      {"panel":"B","behavior":"All","group":"Machine Classifiers","value":0.665,"offset":0.124},
      {"panel":"C","behavior":"All","group":"Human Observers","value":0.991,"offset":-0.062},
      {"panel":"C","behavior":"All","group":"Human Observers","value":0.981,"offset":-0.062},
      {"panel":"C","behavior":"All","group":"Human Observers","value":0.973,"offset":-0.062},
      {"panel":"C","behavior":"All","group":"Human Observers","value":0.956,"offset":-0.062},
      {"panel":"C","behavior":"All","group":"Human Observers","value":0.912,"offset":-0.062},
      {"panel":"C","behavior":"All","group":"Human Observers","value":0.887,"offset":-0.062},
      {"panel":"C","behavior":"All","group":"Human Observers","value":0.821,"offset":-0.062},
      {"panel":"C","behavior":"All","group":"Human Observers","value":0.791,"offset":-0.062},
      {"panel":"C","behavior":"All","group":"Machine Classifiers","value":0.965,"offset":0.09},
      {"panel":"C","behavior":"All","group":"Machine Classifiers","value":0.954,"offset":0.128},
      {"panel":"C","behavior":"All","group":"Machine Classifiers","value":0.936,"offset":0.111},
      {"panel":"C","behavior":"All","group":"Machine Classifiers","value":0.925,"offset":0.136},
      {"panel":"C","behavior":"All","group":"Machine Classifiers","value":0.914,"offset":0.156},
      {"panel":"C","behavior":"All","group":"Machine Classifiers","value":0.876,"offset":0.103},
      {"panel":"C","behavior":"All","group":"Machine Classifiers","value":0.868,"offset":0.132},
      {"panel":"C","behavior":"All","group":"Machine Classifiers","value":0.811,"offset":0.115},
      {"panel":"C","behavior":"All","group":"Machine Classifiers","value":0.802,"offset":0.111},
      {"panel":"C","behavior":"All","group":"Machine Classifiers","value":0.772,"offset":0.103}
    ]
  },
  "spacing": 35,
  "bounds": "flush",
  "resolve": {"scale": {"fill": "independent", "stroke": "independent", "color": "independent"}},
  "hconcat": [
    {
      "width": 364,
      "height": 303,
      "title": {"text": "A", "dy": 27, "dx": 2},
      "encoding": {
        "y": {"field": "value", "type": "quantitative", "scale": {"domain": [0, 1], "nice": false, "zero": false},
              "axis": {"values": [0, 0.2, 0.4, 0.6, 0.8, 1], "format": "~g", "title": "Accuracy by Behavior"}}
      },
      "layer": [
        {"layer": [
          {"data": {"name": "outline"}, "transform": [{"filter": "datum.panel === 'A' && datum.behavior === 'AM'"}],
           "mark": {"type": "area", "orient": "horizontal", "strokeWidth": 1, "clip": true},
           "encoding": {"x": {"field": "spread", "type": "quantitative", "stack": null, "scale": {"domain": [-1.5, 8.5], "nice": false, "zero": false}, "axis": null},
                        "x2": {"datum": 0},
                        "fill": {"field": "group", "type": "nominal", "scale": {"domain": ["Human Observers", "Machine Classifiers", "Mean Human Observer Accuracy", "Mean Machine Classifier Accuracy"], "range": ["#F8DACB", "#C9E0F2", "#FFFFFF", "#FFFFFF"]}, "legend": null},
                        "stroke": {"field": "group", "type": "nominal", "scale": {"domain": ["Human Observers", "Machine Classifiers", "Mean Human Observer Accuracy", "Mean Machine Classifier Accuracy"], "range": ["#D95319", "#0072BD", "#D95319", "#0072BD"]}, "legend": null}}},
          {"data": {"name": "dots"}, "transform": [{"filter": "datum.panel === 'A' && datum.behavior === 'AM'"}],
           "mark": {"type": "circle", "size": 7, "opacity": 0.4, "clip": true},
           "encoding": {"x": {"field": "offset", "type": "quantitative", "scale": {"domain": [-1.5, 8.5], "nice": false, "zero": false}, "axis": null},
                        "color": {"field": "group", "type": "nominal", "scale": {"domain": ["Human Observers", "Machine Classifiers"], "range": ["#D95319", "#0072BD"]}, "legend": null}}}
        ]},
        {"layer": [
          {"data": {"name": "outline"}, "transform": [{"filter": "datum.panel === 'A' && datum.behavior === 'WI'"}],
           "mark": {"type": "area", "orient": "horizontal", "strokeWidth": 1, "clip": true},
           "encoding": {"x": {"field": "spread", "type": "quantitative", "stack": null, "scale": {"domain": [-2.5, 7.5], "nice": false, "zero": false}, "axis": null},
                        "x2": {"datum": 0},
                        "fill": {"field": "group", "type": "nominal", "legend": null},
                        "stroke": {"field": "group", "type": "nominal", "legend": null}}},
          {"data": {"name": "dots"}, "transform": [{"filter": "datum.panel === 'A' && datum.behavior === 'WI'"}],
           "mark": {"type": "circle", "size": 7, "opacity": 0.4, "clip": true},
           "encoding": {"x": {"field": "offset", "type": "quantitative", "scale": {"domain": [-2.5, 7.5], "nice": false, "zero": false}, "axis": null},
                        "color": {"field": "group", "type": "nominal", "legend": null}}}
        ]},
        {"layer": [
          {"data": {"name": "outline"}, "transform": [{"filter": "datum.panel === 'A' && datum.behavior === 'RM'"}],
           "mark": {"type": "area", "orient": "horizontal", "strokeWidth": 1, "clip": true},
           "encoding": {"x": {"field": "spread", "type": "quantitative", "stack": null, "scale": {"domain": [-3.5, 6.5], "nice": false, "zero": false}, "axis": null},
                        "x2": {"datum": 0},
                        "fill": {"field": "group", "type": "nominal", "legend": null},
                        "stroke": {"field": "group", "type": "nominal", "legend": null}}},
          {"data": {"name": "dots"}, "transform": [{"filter": "datum.panel === 'A' && datum.behavior === 'RM'"}],
           "mark": {"type": "circle", "size": 7, "opacity": 0.4, "clip": true},
           "encoding": {"x": {"field": "offset", "type": "quantitative", "scale": {"domain": [-3.5, 6.5], "nice": false, "zero": false}, "axis": null},
                        "color": {"field": "group", "type": "nominal", "legend": null}}}
        ]},
        {"layer": [
          {"data": {"name": "outline"}, "transform": [{"filter": "datum.panel === 'A' && datum.behavior === 'FB'"}],
           "mark": {"type": "area", "orient": "horizontal", "strokeWidth": 1, "clip": true},
           "encoding": {"x": {"field": "spread", "type": "quantitative", "stack": null, "scale": {"domain": [-4.5, 5.5], "nice": false, "zero": false}, "axis": null},
                        "x2": {"datum": 0},
                        "fill": {"field": "group", "type": "nominal", "legend": null},
                        "stroke": {"field": "group", "type": "nominal", "legend": null}}},
          {"data": {"name": "dots"}, "transform": [{"filter": "datum.panel === 'A' && datum.behavior === 'FB'"}],
           "mark": {"type": "circle", "size": 7, "opacity": 0.4, "clip": true},
           "encoding": {"x": {"field": "offset", "type": "quantitative", "scale": {"domain": [-4.5, 5.5], "nice": false, "zero": false}, "axis": null},
                        "color": {"field": "group", "type": "nominal", "legend": null}}}
        ]},
        {"layer": [
          {"data": {"name": "outline"}, "transform": [{"filter": "datum.panel === 'A' && datum.behavior === 'JU'"}],
           "mark": {"type": "area", "orient": "horizontal", "strokeWidth": 1, "clip": true},
           "encoding": {"x": {"field": "spread", "type": "quantitative", "stack": null, "scale": {"domain": [-5.5, 4.5], "nice": false, "zero": false}, "axis": null},
                        "x2": {"datum": 0},
                        "fill": {"field": "group", "type": "nominal", "legend": null},
                        "stroke": {"field": "group", "type": "nominal", "legend": null}}},
          {"data": {"name": "dots"}, "transform": [{"filter": "datum.panel === 'A' && datum.behavior === 'JU'"}],
           "mark": {"type": "circle", "size": 7, "opacity": 0.4, "clip": true},
           "encoding": {"x": {"field": "offset", "type": "quantitative", "scale": {"domain": [-5.5, 4.5], "nice": false, "zero": false}, "axis": null},
                        "color": {"field": "group", "type": "nominal", "legend": null}}}
        ]},
        {"layer": [
          {"data": {"name": "outline"}, "transform": [{"filter": "datum.panel === 'A' && datum.behavior === 'DB'"}],
           "mark": {"type": "area", "orient": "horizontal", "strokeWidth": 1, "clip": true},
           "encoding": {"x": {"field": "spread", "type": "quantitative", "stack": null, "scale": {"domain": [-6.5, 3.5], "nice": false, "zero": false}, "axis": null},
                        "x2": {"datum": 0},
                        "fill": {"field": "group", "type": "nominal", "legend": null},
                        "stroke": {"field": "group", "type": "nominal", "legend": null}}},
          {"data": {"name": "dots"}, "transform": [{"filter": "datum.panel === 'A' && datum.behavior === 'DB'"}],
           "mark": {"type": "circle", "size": 7, "opacity": 0.4, "clip": true},
           "encoding": {"x": {"field": "offset", "type": "quantitative", "scale": {"domain": [-6.5, 3.5], "nice": false, "zero": false}, "axis": null},
                        "color": {"field": "group", "type": "nominal", "legend": null}}}
        ]},
        {"layer": [
          {"data": {"name": "outline"}, "transform": [{"filter": "datum.panel === 'A' && datum.behavior === 'GR'"}],
           "mark": {"type": "area", "orient": "horizontal", "strokeWidth": 1, "clip": true},
           "encoding": {"x": {"field": "spread", "type": "quantitative", "stack": null, "scale": {"domain": [-7.5, 2.5], "nice": false, "zero": false}, "axis": null},
                        "x2": {"datum": 0},
                        "fill": {"field": "group", "type": "nominal", "legend": null},
                        "stroke": {"field": "group", "type": "nominal", "legend": null}}},
          {"data": {"name": "dots"}, "transform": [{"filter": "datum.panel === 'A' && datum.behavior === 'GR'"}],
           "mark": {"type": "circle", "size": 7, "opacity": 0.4, "clip": true},
           "encoding": {"x": {"field": "offset", "type": "quantitative", "scale": {"domain": [-7.5, 2.5], "nice": false, "zero": false}, "axis": null},
                        "color": {"field": "group", "type": "nominal", "legend": null}}}
        ]},
        {"layer": [
          {"data": {"name": "outline"}, "transform": [{"filter": "datum.panel === 'A' && datum.behavior === 'RO'"}],
           "mark": {"type": "area", "orient": "horizontal", "strokeWidth": 1, "clip": true},
           "encoding": {"x": {"field": "spread", "type": "quantitative", "stack": null, "scale": {"domain": [-8.5, 1.5], "nice": false, "zero": false}, "axis": null},
                        "x2": {"datum": 0},
                        "fill": {"field": "group", "type": "nominal", "legend": null},
                        "stroke": {"field": "group", "type": "nominal", "legend": null}}},
          {"data": {"name": "dots"}, "transform": [{"filter": "datum.panel === 'A' && datum.behavior === 'RO'"}],
           "mark": {"type": "circle", "size": 7, "opacity": 0.4, "clip": true},
           "encoding": {"x": {"field": "offset", "type": "quantitative", "scale": {"domain": [-8.5, 1.5], "nice": false, "zero": false}, "axis": null},
                        "color": {"field": "group", "type": "nominal", "legend": null}}}
        ]},
        {"data": {"name": "means"},
         "mark": {"type": "rule", "strokeWidth": 1.3},
         "encoding": {
           "x": {"datum": 0, "type": "quantitative", "scale": {"domain": [-0.5, 9.5], "nice": false, "zero": false},
                 "axis": {"values": [1, 2, 3, 4, 5, 6, 7, 8], "labelExpr": "['', 'AM', 'WI', 'RM', 'FB', 'JU', 'DB', 'GR', 'RO'][datum.value]", "title": null, "labelFlush": false}},
           "x2": {"datum": 9},
           "stroke": {"field": "group", "type": "nominal", "legend": null}
         }}
      ],
      "resolve": {"scale": {"x": "independent"}}
    },
    {
      "spacing": 40,
      "bounds": "flush",
      "resolve": {"scale": {"fill": "independent", "stroke": "independent", "color": "independent"}},
      "hconcat": [
        {
          "width": 161,
          "height": 303,
          "title": {"text": "B", "dy": 27, "dx": 4},
          "encoding": {
            "y": {"field": "value", "type": "quantitative", "scale": {"domain": [0, 1], "nice": false, "zero": false},
                  "axis": {"values": [0.2, 0.4, 0.6, 0.8, 1], "format": "~g", "title": "Overall Accuracy"}}
          },
          "layer": [
            {"data": {"name": "outline"}, "transform": [{"filter": "datum.panel === 'B'"}],
             "mark": {"type": "area", "orient": "horizontal", "strokeWidth": 1, "clip": true},
             "encoding": {"x": {"field": "spread", "type": "quantitative", "stack": null, "scale": {"domain": [-1, 1], "nice": false, "zero": false},
                                "axis": {"values": [0], "labels": false, "title": null}},
                          "x2": {"datum": 0},
                          "fill": {"field": "group", "type": "nominal", "scale": {"domain": ["Human Observers", "Machine Classifiers", "Mean Human Observer Accuracy", "Mean Machine Classifier Accuracy"], "range": ["#F8DACB", "#C9E0F2", "#FFFFFF", "#FFFFFF"]}, "legend": null},
                          "stroke": {"field": "group", "type": "nominal", "scale": {"domain": ["Human Observers", "Machine Classifiers", "Mean Human Observer Accuracy", "Mean Machine Classifier Accuracy"], "range": ["#D95319", "#0072BD", "#D95319", "#0072BD"]}, "legend": null}}},
            {"data": {"name": "dots"}, "transform": [{"filter": "datum.panel === 'B'"}],
             "mark": {"type": "circle", "size": 7, "opacity": 0.4, "clip": true},
             "encoding": {"x": {"field": "offset", "type": "quantitative"},
                          "color": {"field": "group", "type": "nominal", "scale": {"domain": ["Human Observers", "Machine Classifiers"], "range": ["#D95319", "#0072BD"]}, "legend": null}}},
            {"data": {"name": "means"},
             "mark": {"type": "rule", "strokeWidth": 1.3},
             "encoding": {"x": {"datum": -0.49, "type": "quantitative"}, "x2": {"datum": 0.49},
                          "stroke": {"field": "group", "type": "nominal", "legend": null}}}
          ]
        },
        {
          "width": 162,
          "height": 303,
          "title": {"text": "C", "dy": 27, "dx": 1},
          "encoding": {
            "y": {"field": "value", "type": "quantitative", "scale": {"domain": [0, 1], "nice": false, "zero": false},
                  "axis": {"values": [0, 0.2, 0.4, 0.6, 0.8, 1], "format": "~g", "title": "Precision"}}
          },
          "layer": [
            {"data": {"name": "outline"}, "transform": [{"filter": "datum.panel === 'C'"}],
             "mark": {"type": "area", "orient": "horizontal", "strokeWidth": 1, "clip": true},
             "encoding": {"x": {"field": "spread", "type": "quantitative", "stack": null, "scale": {"domain": [-1, 1], "nice": false, "zero": false},
                                "axis": {"values": [0], "labels": false, "title": null}},
                          "x2": {"datum": 0},
                          "fill": {"field": "group", "type": "nominal", "scale": {"domain": ["Human Observers", "Machine Classifiers", "Mean Human Observer Accuracy", "Mean Machine Classifier Accuracy"], "range": ["#F8DACB", "#C9E0F2", "#FFFFFF", "#FFFFFF"]},
                                   "legend": {"title": null, "orient": "none", "legendX": 15, "legendY": 248, "strokeColor": "#262626", "fillColor": "white", "padding": 1.5, "labelFontSize": 8.3, "labelColor": "#262626", "labelLimit": 300, "symbolSize": 64, "clipHeight": 9.3, "rowPadding": 0.5, "symbolStrokeWidth": 1,
                                              "encode": {
                                                "symbols": {"update": {
                                                  "x": {"value": 8.5},
                                                  "size": {"value": 64},
                                                  "shape": {"signal": "indexof(datum.value, 'Mean') === 0 ? 'M-2.25,0H2.25' : 'M-2.25,-1H2.25V1H-2.25Z'"},
                                                  "opacity": {"value": 1},
                                                  "strokeWidth": {"value": 1.2}}},
                                                "labels": {"update": {"x": {"value": 18}}}}}},
                          "stroke": {"field": "group", "type": "nominal", "scale": {"domain": ["Human Observers", "Machine Classifiers", "Mean Human Observer Accuracy", "Mean Machine Classifier Accuracy"], "range": ["#D95319", "#0072BD", "#D95319", "#0072BD"]},
                                     "legend": {"title": null, "orient": "none", "legendX": 15, "legendY": 248, "strokeColor": "#262626", "fillColor": "white", "padding": 1.5, "labelFontSize": 8.3, "labelColor": "#262626", "labelLimit": 300, "symbolSize": 64, "clipHeight": 9.3, "rowPadding": 0.5, "symbolStrokeWidth": 1,
                                              "encode": {
                                                "symbols": {"update": {
                                                  "x": {"value": 8.5},
                                                  "size": {"value": 64},
                                                  "shape": {"signal": "indexof(datum.value, 'Mean') === 0 ? 'M-2.25,0H2.25' : 'M-2.25,-1H2.25V1H-2.25Z'"},
                                                  "opacity": {"value": 1},
                                                  "strokeWidth": {"value": 1.2}}},
                                                "labels": {"update": {"x": {"value": 18}}}}}}}},
            {"data": {"name": "dots"}, "transform": [{"filter": "datum.panel === 'C'"}],
             "mark": {"type": "circle", "size": 7, "opacity": 0.4, "clip": true},
             "encoding": {"x": {"field": "offset", "type": "quantitative"},
                          "color": {"field": "group", "type": "nominal", "scale": {"domain": ["Human Observers", "Machine Classifiers"], "range": ["#D95319", "#0072BD"]}, "legend": null}}}
          ]
        }
      ]
    }
  ]
}
